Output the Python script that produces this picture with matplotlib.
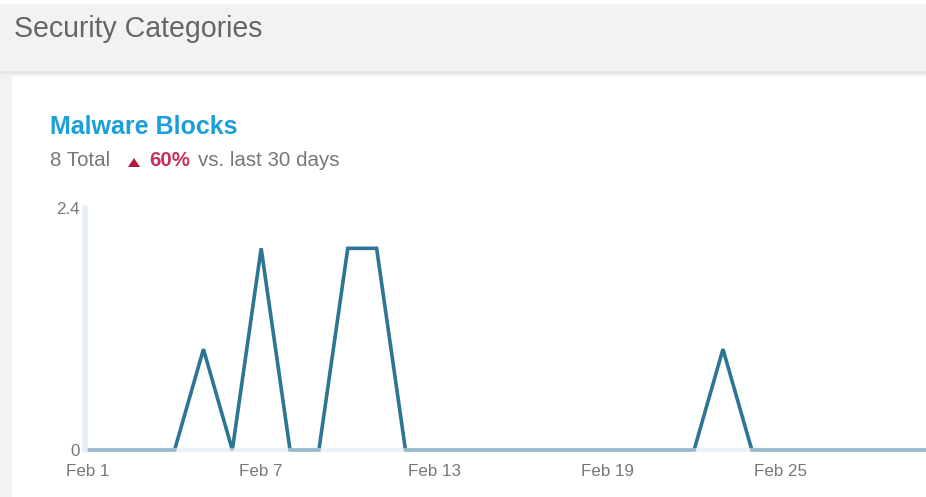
import matplotlib
matplotlib.use("Agg")
import matplotlib.pyplot as plt
from matplotlib.patches import Rectangle, Polygon

# ---- data ----
days = ["Feb 1", "Feb 2", "Feb 3", "Feb 4", "Feb 5", "Feb 6", "Feb 7", "Feb 8", "Feb 9", "Feb 10",
        "Feb 11", "Feb 12", "Feb 13", "Feb 14", "Feb 15", "Feb 16", "Feb 17", "Feb 18", "Feb 19",
        "Feb 20", "Feb 21", "Feb 22", "Feb 23", "Feb 24", "Feb 25", "Feb 26", "Feb 27", "Feb 28",
        "Feb 29", "Mar 1"]
blocks = [0, 0, 0, 0, 1, 0, 2, 0, 0, 2,
          2, 0, 0, 0, 0, 0, 0, 0, 0,
          0, 0, 0, 1, 0, 0, 0, 0, 0,
          0, 0]
tick_labels = ["Feb 1", "Feb 7", "Feb 13", "Feb 19", "Feb 25"]
y_ticks = [0, 2.4]
y_tick_labels = ["0", "2.4"]

W, H = 926, 497
fig = plt.figure(figsize=(W / 100, H / 100), dpi=100)
fig.patch.set_facecolor("white")

# background layer in pixel coordinates
bg = fig.add_axes([0, 0, 1, 1], zorder=0)
bg.set_xlim(0, W)
bg.set_ylim(H, 0)
bg.axis("off")
bg.add_patch(Rectangle((0, 4), W, H, facecolor="#f2f2f2", edgecolor="none"))
bg.add_patch(Rectangle((0, 71), W, 3, facecolor="#e6e6e6", edgecolor="none"))
bg.add_patch(Rectangle((12, 76), W, H, facecolor="white", edgecolor="none"))

FS = 0.72  # px -> pt
bg.text(14, 29, "Security Categories", fontsize=28.5 * FS, color="#666666",
        family="Liberation Sans", va="center", ha="left")
bg.text(50, 127, "Malware Blocks", fontsize=25 * FS, color="#1a9fd9",
        family="Liberation Sans", fontweight="bold", va="center", ha="left")
bg.text(50, 161, "8 Total", fontsize=20.5 * FS, color="#777777",
        family="Liberation Sans", va="center", ha="left")
bg.add_patch(Polygon([(128, 167), (140, 167), (134, 158)], closed=True,
                     facecolor="#b5173f", edgecolor="none"))
bg.text(149, 161, "60%", fontsize=20.5 * FS, color="#c4335c",
        family="Liberation Sans", fontweight="bold", va="center", ha="left")
bg.text(198, 161, "vs. last 30 days", fontsize=20.5 * FS, color="#777777",
        family="Liberation Sans", va="center", ha="left")

# chart axes
x0, x1 = 88, 925
yb, yt = 450, 208
ax = fig.add_axes([x0 / W, 1 - yb / H, (x1 - x0) / W, (yb - yt) / H], zorder=2)
ax.set_facecolor("none")
xs = list(range(len(days)))
ax.plot(xs, blocks, color="#2d7593", lw=2.6, solid_joinstyle="miter", zorder=2, clip_on=False)
ax.axhline(0, color="#dfe8f3", lw=3, alpha=0.6, zorder=3, clip_on=False)
ax.set_xlim(0, len(days) - 1)
ax.set_ylim(0, 2.4)
for s in ["top", "right", "bottom"]:
    ax.spines[s].set_visible(False)
ax.spines["left"].set_color("#e8eef8")
ax.spines["left"].set_linewidth(4)
ax.spines["left"].set_position(("outward", 2))
ax.set_yticks(y_ticks)
ax.set_yticklabels(y_tick_labels)
ax.set_xticks([days.index(t) for t in tick_labels])
ax.set_xticklabels(tick_labels)
ax.tick_params(axis="both", length=0, colors="#777777", labelsize=17 * FS)
ax.tick_params(axis="y", pad=4)
ax.tick_params(axis="x", pad=10)
for lab in ax.get_xticklabels() + ax.get_yticklabels():
    lab.set_family("Liberation Sans")
    lab.set_color("#777777")

fig.savefig("out.png", dpi=100, facecolor=fig.get_facecolor())
